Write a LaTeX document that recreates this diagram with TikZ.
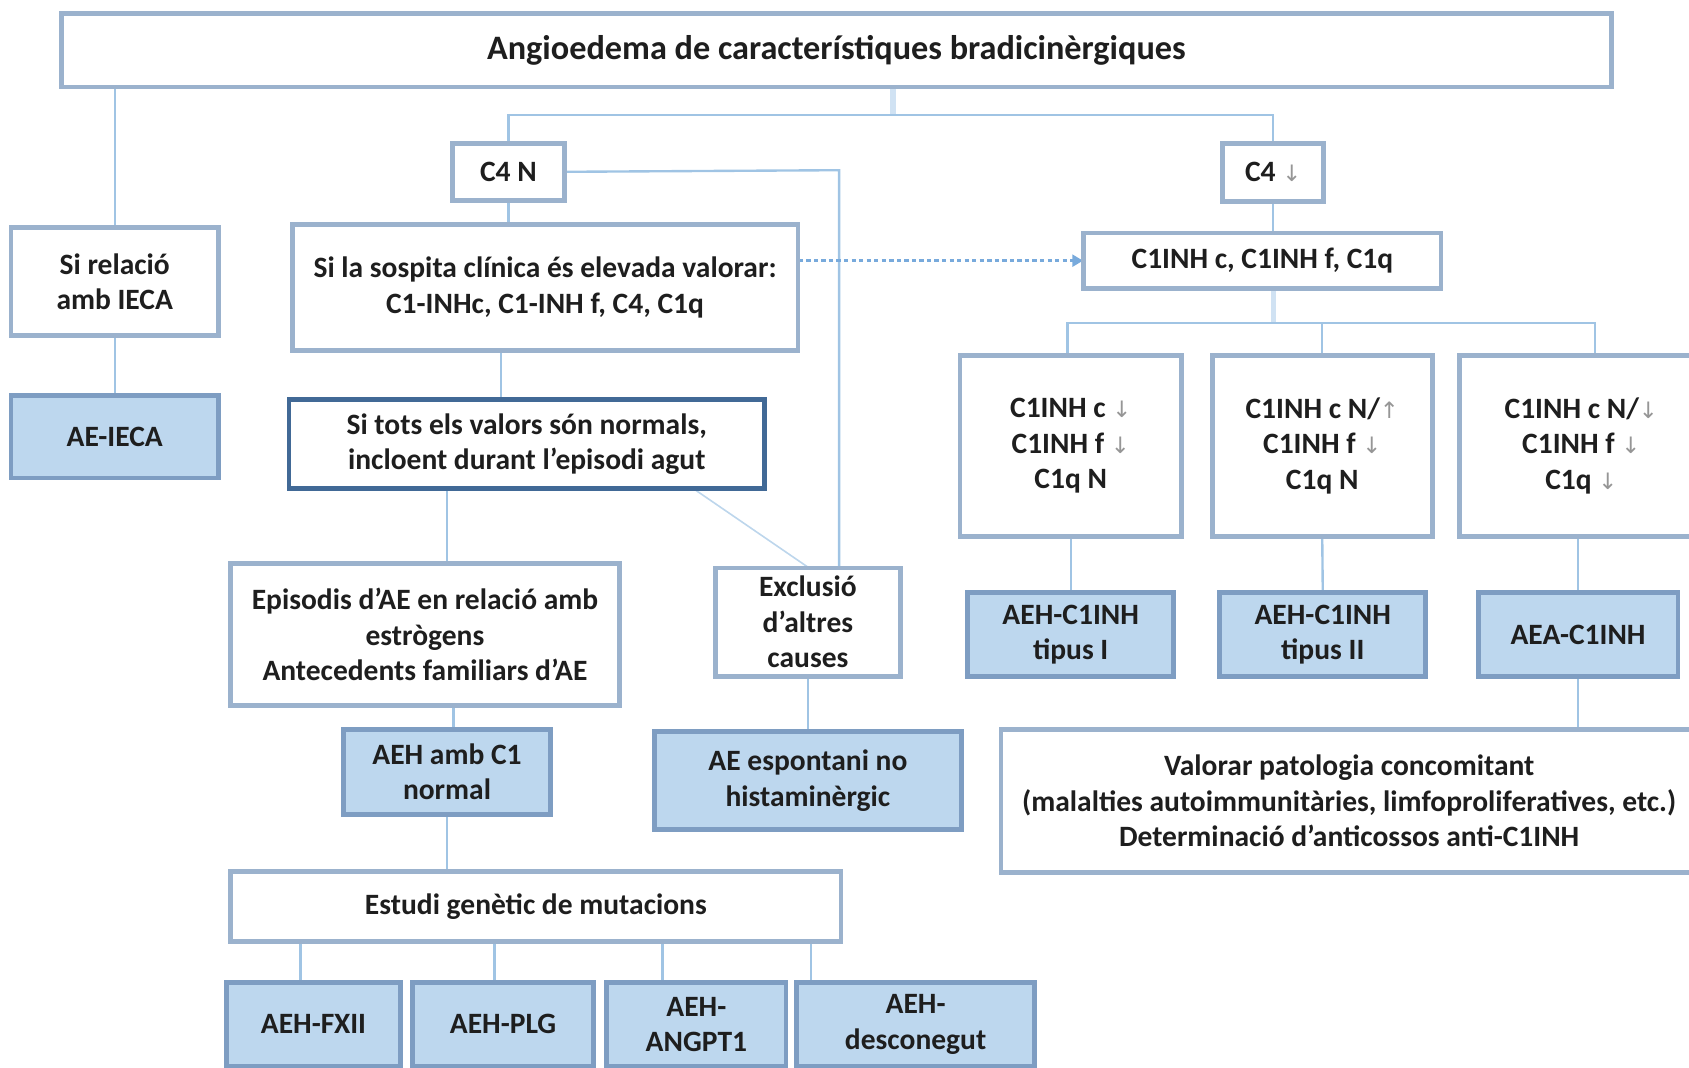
\documentclass[tikz,border=0pt]{standalone}
\usepackage{fontspec}
\setmainfont{Carlito}
\newfontfamily\arrfont{DejaVu Sans}
\usetikzlibrary{arrows.meta}
\definecolor{bordc}{RGB}{155,178,205}
\definecolor{linec}{RGB}{160,196,228}
\definecolor{thickc}{RGB}{208,226,243}
\definecolor{bluef}{RGB}{189,215,238}
\definecolor{blueb}{RGB}{126,157,194}
\definecolor{darkb}{RGB}{65,105,150}
\definecolor{dotc}{RGB}{120,170,220}
\definecolor{arrc}{RGB}{150,150,150}
\definecolor{txtc}{RGB}{30,30,30}
\newcommand{\dn}{{\color{arrc}\arrfont\mdseries\fontsize{21}{24}\selectfont↓}}
\newcommand{\up}{{\color{arrc}\arrfont\mdseries\fontsize{21}{24}\selectfont↑}}
\tikzset{
  box/.style={draw=bordc, line width=3pt, fill=white, align=center, inner sep=0pt,
    text=txtc, font=\bfseries\fontsize{27.4}{33}\selectfont},
  bbox/.style={box, draw=blueb, fill=bluef},
  conn/.style={draw=linec, line width=2.2pt},
  tconn/.style={draw=thickc, line width=5pt},
}
\begin{document}
\begin{tikzpicture}[x=1pt,y=-1pt]
\useasboundingbox (0,0) rectangle (1568,991);
\coordinate (jn1) at (829,107);
\coordinate (jn2) at (1182,300);
\coordinate (jc4) at (779,158);
% nodes
\node[box, minimum width=1437, minimum height=67, font=\bfseries\fontsize{31.8}{36}\selectfont] (top) at (776.5,46.5) {Angioedema de característiques bradicinèrgiques};
\node[box, minimum width=102, minimum height=51] (c4n) at (472,159.5) {C4 N};
\node[box, minimum width=92, minimum height=52] (c4d) at (1182,160) {C4 \dn};
\node[box, minimum width=191, minimum height=99] (sirel) at (106.5,261.5) {Si relació\\amb IECA};
\node[bbox, minimum width=191, minimum height=75] (aeieca) at (106.5,405.5) {AE-IECA};
\node[box, minimum width=468, minimum height=116] (sospita) at (506,267) {Si la sospita clínica és elevada valorar:\\C1-INHc, C1-INH f, C4, C1q};
\node[box, draw=darkb, minimum width=440, minimum height=81] (sitots) at (489,412.5) {Si tots els valors són normals,\\incloent durant l'episodi agut};
\node[box, minimum width=359, minimum height=130] (episodis) at (394.5,589) {Episodis d'AE en relació amb\\estrògens\\Antecedents familiars d'AE};
\node[bbox, minimum width=190, minimum height=77] (aehc1) at (415,716.5) {AEH amb C1\\normal};
\node[box, minimum width=565, minimum height=63] (estudi) at (497.5,841.5) {Estudi genètic de mutacions};
\node[bbox, minimum width=160, minimum height=76] (fxii) at (291,951) {AEH-FXII};
\node[bbox, minimum width=166, minimum height=76] (plg) at (467,951) {AEH-PLG};
\node[bbox, minimum width=165, minimum height=76] (angpt) at (646.5,951) {AEH-\\ANGPT1};
\node[bbox, minimum width=220, minimum height=76] (desc) at (850,951) {AEH-\\desconegut};
\node[box, minimum width=170, minimum height=99] (excl) at (750,577.5) {Exclusió\\d'altres\\causes};
\node[bbox, minimum width=284, minimum height=89] (espont) at (750,724.5) {AE espontani no\\histaminèrgic};
\node[box, minimum width=330, minimum height=50] (c1inh) at (1172,242) {C1INH c, C1INH f, C1q};
\node[box, minimum width=204, minimum height=166] (b1) at (994,414) {C1INH c \dn\\C1INH f \dn\\C1q N};
\node[box, minimum width=203, minimum height=166] (b2) at (1227.5,414) {C1INH c N/\up\\C1INH f \dn\\C1q N};
\node[box, minimum width=224, minimum height=166] (b3) at (1468,414) {C1INH c N/\dn\\C1INH f \dn\\C1q \dn};
\node[bbox, minimum width=190, minimum height=76] (t1) at (994,589) {AEH-C1INH\\tipus I};
\node[bbox, minimum width=190, minimum height=76] (t2) at (1228,589) {AEH-C1INH\\tipus II};
\node[bbox, minimum width=184, minimum height=76] (aea) at (1465,589) {AEA-C1INH};
\node[box, minimum width=645, minimum height=131] (valorar) at (1252.5,743.5) {Valorar patologia concomitant\\(malalties autoimmunitàries, limfoproliferatives, etc.)\\Determinació d'anticossos anti-C1INH};
% connectors
\draw[conn] (sirel.north |- top.south) -- (sirel.north);
\draw[conn] (sirel.south) -- (aeieca.north);
\draw[tconn] (jn1 |- top.south) -- (jn1);
\draw[conn] (c4n.north) |- (jn1) -| (c4d.north);
\draw[conn] (c4n.east) -- (jc4) -- (jc4 |- excl.north);
\draw[conn] (c4n.south) -- (c4n.south |- sospita.north);
\draw[conn] (465,0 |- sospita.south) -- (465,0 |- sitots.north);
\draw[conn] (415,0 |- sitots.south) -- (415,0 |- episodis.north);
\draw[draw=linec!70, line width=1.5pt] (645,0 |- sitots.south) -- (excl.north);
\draw[conn] (421,0 |- episodis.south) -- (421,0 |- aehc1.north);
\draw[conn] (aehc1.south) -- (aehc1.south |- estudi.north);
\draw[conn] (fxii.north -| 279,0) -- (279,0 |- estudi.south);
\draw[conn] (plg.north -| 459,0) -- (459,0 |- estudi.south);
\draw[conn] (angpt.north -| 615,0) -- (615,0 |- estudi.south);
\draw[conn] (desc.north -| 753,0) -- (753,0 |- estudi.south);
\draw[conn] (excl.south) -- (espont.north);
\draw[dotc, line width=3pt, dash pattern=on 4pt off 3pt, -{Triangle[length=10pt,width=11pt]}] (sospita.east |- c1inh.west) -- (c1inh.west);
\draw[conn] (c4d.south) -- (c4d.south |- c1inh.north);
\draw[tconn] (c1inh.south -| jn2) -- (jn2);
\draw[conn] (b1.north -| 991,0) |- (jn2) -| (b3.north -| 1481,0);
\draw[conn] (jn2 -| b2.north) -- (b2.north);
\draw[conn] (b1.south) -- (t1.north);
\draw[conn] (b2.south) -- (t2.north);
\draw[conn] (b3.south -| aea.north) -- (aea.north);
\draw[conn] (aea.south) -- (aea.south |- valorar.north);
% box borders on top
\foreach \n in {top,c4n,c4d,sirel,sospita,excl,episodis,estudi,c1inh,b1,b2,b3,valorar}
  \draw[bordc, line width=3pt] (\n.north west) rectangle (\n.south east);
\draw[darkb, line width=3pt] (sitots.north west) rectangle (sitots.south east);
\foreach \n in {aeieca,aehc1,fxii,plg,angpt,desc,espont,t1,t2,aea}
  \draw[blueb, line width=3pt] (\n.north west) rectangle (\n.south east);
\end{tikzpicture}
\end{document}
